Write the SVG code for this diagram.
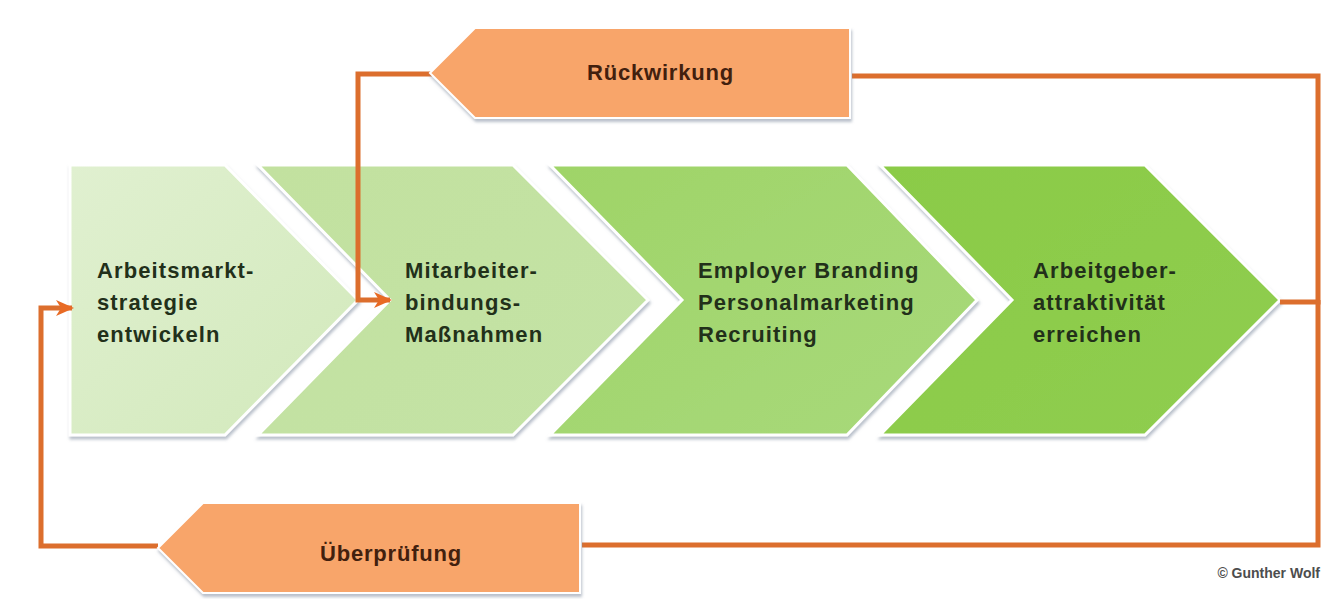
<svg xmlns="http://www.w3.org/2000/svg" width="1336" height="599" viewBox="0 0 1336 599">
<style>
.lbl{font-family:"Liberation Sans",Arial,sans-serif;font-weight:bold;font-size:22px;letter-spacing:1.1px;fill:#22301a}
.olbl{font-family:"Liberation Sans",Arial,sans-serif;font-weight:bold;font-size:22px;letter-spacing:0.8px;fill:#42200e}
.chev{stroke:#ffffff;stroke-width:3;filter:url(#sh)}
.obox{fill:#f8a56b;stroke:#ffffff;stroke-width:2;filter:url(#sh)}
.con{fill:none;stroke:#dc6e2d;stroke-width:5}
.copy{font-family:"Liberation Sans",Arial,sans-serif;font-weight:bold;font-size:14px;fill:#4d4d4d}
</style>
<defs>
<filter id="sh" x="-5%" y="-5%" width="110%" height="115%">
<feDropShadow dx="1" dy="3" stdDeviation="1.5" flood-color="#7f8ca0" flood-opacity="0.55"/>
</filter>
<linearGradient id="g1" x1="0" y1="0" x2="1" y2="1"><stop offset="0" stop-color="#e0f0d0"/><stop offset="1" stop-color="#d2e9bb"/></linearGradient>
<linearGradient id="g2" x1="0" y1="0" x2="1" y2="1"><stop offset="0" stop-color="#c2e19f"/><stop offset="1" stop-color="#c4e3a6"/></linearGradient>
<linearGradient id="g3" x1="0" y1="0" x2="1" y2="1"><stop offset="0" stop-color="#9fd468"/><stop offset="1" stop-color="#a8d97b"/></linearGradient>
<linearGradient id="g4" x1="0" y1="0" x2="1" y2="1"><stop offset="0" stop-color="#8bcb47"/><stop offset="1" stop-color="#8fcd50"/></linearGradient>
<marker id="arr" markerUnits="userSpaceOnUse" markerWidth="18" markerHeight="18" refX="16" refY="9" orient="auto" viewBox="0 0 18 18">
<path d="M0,1 L18,9 L0,17 L5,9 Z" fill="#e86a24"/>
</marker>
</defs>

<g id="chevron1"><polygon class="chev" fill="url(#g1)" points="70,165 225,165 358,300 225,435 70,435"/>
<text class="lbl" x="97" y="278">Arbeitsmarkt-</text><text class="lbl" x="97" y="310">strategie</text><text class="lbl" x="97" y="342">entwickeln</text></g>

<g id="chevron2"><polygon class="chev" fill="url(#g2)" points="258,165 513,165 648,300 513,435 258,435 390,300"/>
<text class="lbl" x="405" y="278">Mitarbeiter-</text><text class="lbl" x="405" y="310">bindungs-</text><text class="lbl" x="405" y="342">Maßnahmen</text></g>

<g id="chevron3"><polygon class="chev" fill="url(#g3)" points="550,165 847,165 977,300 847,435 550,435 682,300"/>
<text class="lbl" x="698" y="278">Employer Branding</text><text class="lbl" x="698" y="310">Personalmarketing</text><text class="lbl" x="698" y="342">Recruiting</text></g>

<g id="chevron4"><polygon class="chev" fill="url(#g4)" points="880,165 1145,165 1280,300 1145,435 880,435 1012,300"/>
<text class="lbl" x="1033" y="278">Arbeitgeber-</text><text class="lbl" x="1033" y="310">attraktivität</text><text class="lbl" x="1033" y="342">erreichen</text></g>

<g id="connectors">
<path class="con" d="M1280,302 H1318 V76 H852"/>
<path class="con" d="M432,74 H358 V300 H390" marker-end="url(#arr)"/>
<path class="con" d="M1318,300 V545 H582"/>
<path class="con" d="M158,546 H41 V308 H72" marker-end="url(#arr)"/>
</g>

<g id="rueckwirkung"><polygon class="obox" points="430,73 475,28 850,28 850,118 475,118"/>
<text class="olbl" x="587" y="80">Rückwirkung</text></g>

<g id="ueberpruefung"><polygon class="obox" points="158,548 203,503 580,503 580,593 203,593"/>
<text class="olbl" x="320" y="561">Überprüfung</text></g>

<text class="copy" x="1320" y="578" text-anchor="end">© Gunther Wolf</text>
</svg>
